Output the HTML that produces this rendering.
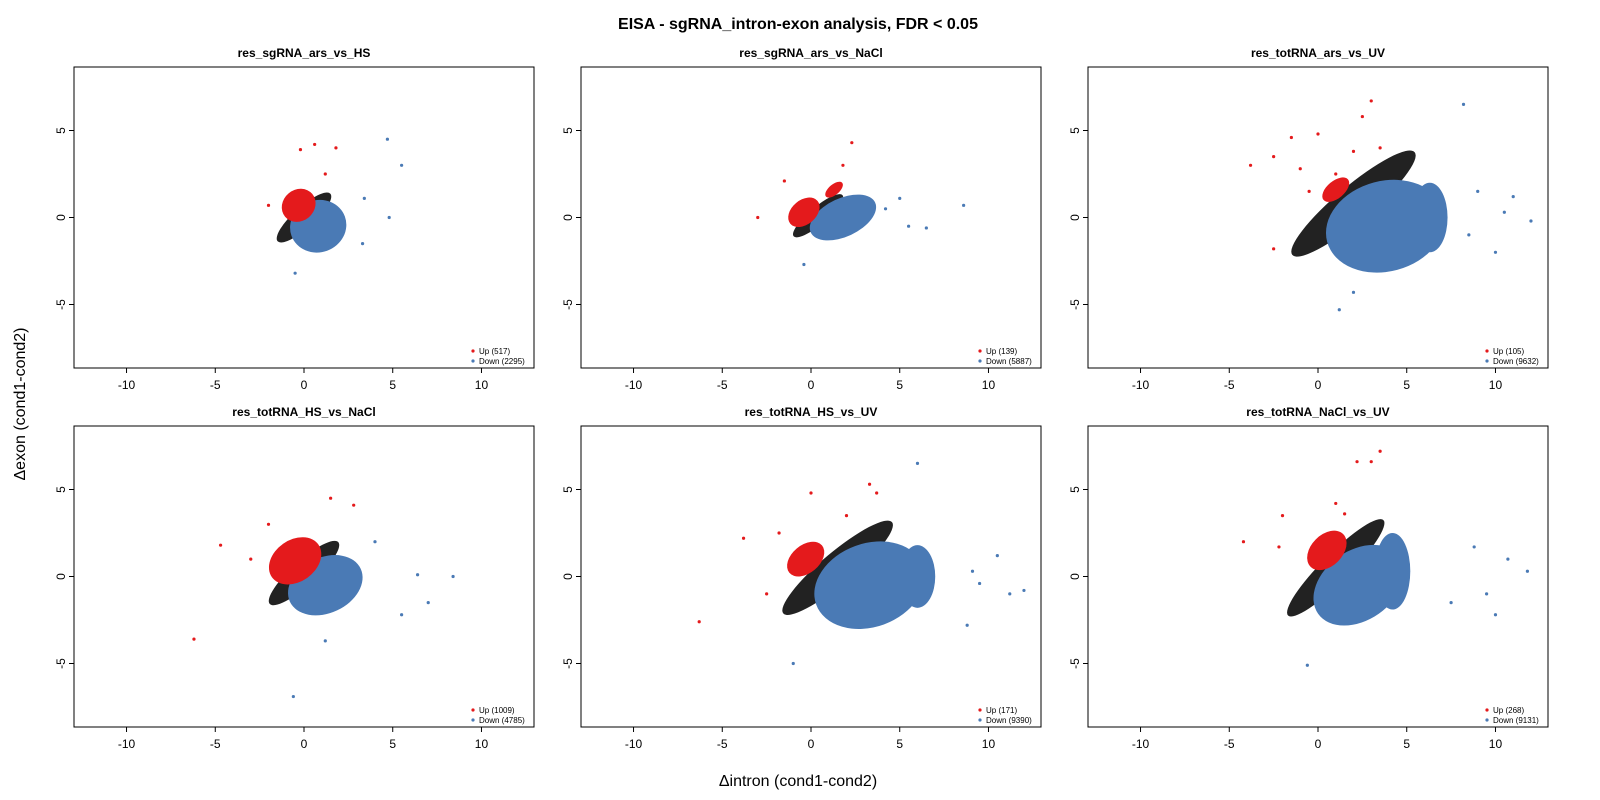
<!DOCTYPE html>
<html><head><meta charset="utf-8">
<style>
html,body{margin:0;padding:0;background:#fff;}
svg{display:block;font-family:"Liberation Sans",Arial,sans-serif;}
</style></head>
<body>
<svg id="chart" width="1600" height="800" viewBox="0 0 1600 800">
<text x="798" y="29" text-anchor="middle" font-size="16" font-weight="bold">EISA - sgRNA_intron-exon analysis, FDR &lt; 0.05</text>
<text x="798" y="786" text-anchor="middle" font-size="16">Δintron (cond1-cond2)</text>
<text transform="translate(25,404) rotate(-90)" text-anchor="middle" font-size="16">Δexon (cond1-cond2)</text>
</svg>
<script>
// panel metadata
const titles = ["res_sgRNA_ars_vs_HS","res_sgRNA_ars_vs_NaCl","res_totRNA_ars_vs_UV","res_totRNA_HS_vs_NaCl","res_totRNA_HS_vs_UV","res_totRNA_NaCl_vs_UV"];
const upCounts = [517,139,105,1009,171,268];
const downCounts = [2295,5887,9632,4785,9390,9131];
const xTicks = [-10,-5,0,5,10];
const yTicks = [-5,0,5];
// cloud shapes per panel: [cx, cy, rx, ry, angleDeg] in data units
const nsClouds = [
 [[0,0,2.0,0.6,42]],[[0.4,0.1,1.8,0.5,40]],[[2,0.8,4.5,1.0,40]],
 [[0,0.2,2.6,0.7,42]],[[1.5,0.5,4,0.9,40]],[[1,0.5,3.8,0.8,45]]];
const downClouds = [
 [[0.8,-0.5,1.6,1.5,20]],[[1.8,0,2.0,1.1,25]],[[3.8,-0.5,3.4,2.6,15],[6.3,0,1.0,2.0,0]],
 [[1.2,-0.5,2.2,1.6,25]],[[3.3,-0.5,3.2,2.4,20],[6,0,1.0,1.8,0]],[[2.3,-0.5,2.8,2.0,35],[4.2,0.3,1.0,2.2,0]]];
const upClouds = [
 [[-0.3,0.7,1.0,0.9,40]],[[-0.4,0.3,1.0,0.7,40],[1.3,1.6,0.6,0.3,40]],[[1.0,1.6,0.9,0.5,40]],
 [[-0.5,0.9,1.6,1.2,35]],[[-0.3,1.0,1.2,0.8,40]],[[0.5,1.5,1.3,0.9,45]]];
const upPoints = [
 [[0.6,4.2],[-0.2,3.9],[1.8,4],[-2,0.7],[1.2,2.5]],
 [[2.3,4.3],[-3,0],[1.8,3],[-1.5,2.1]],
 [[-3.8,3],[-2.5,3.5],[-1.5,4.6],[0,4.8],[2.5,5.8],[3,6.7],[2,3.8],[-2.5,-1.8],[-0.5,1.5],[3.5,4],[1,2.5],[-1,2.8]],
 [[-4.7,1.8],[-6.2,-3.6],[-2,3],[1.5,4.5],[2.8,4.1],[-3,1]],
 [[-3.8,2.2],[-6.3,-2.6],[0,4.8],[3.3,5.3],[3.7,4.8],[-1.8,2.5],[2,3.5],[-2.5,-1]],
 [[-4.2,2],[2.2,6.6],[3,6.6],[3.5,7.2],[-2,3.5],[1,4.2],[-2.2,1.7],[1.5,3.6]]];
const downPoints = [
 [[5.5,3],[4.8,0],[3.3,-1.5],[-0.5,-3.2],[3.4,1.1],[4.7,4.5]],
 [[8.6,0.7],[6.5,-0.6],[5.5,-0.5],[-0.4,-2.7],[5,1.1],[4.2,0.5]],
 [[12,-0.2],[11,1.2],[10,-2],[9,1.5],[8.2,6.5],[1.2,-5.3],[2,-4.3],[10.5,0.3],[8.5,-1]],
 [[8.4,0],[7,-1.5],[6.4,0.1],[5.5,-2.2],[-0.6,-6.9],[1.2,-3.7],[4,2]],
 [[12,-0.8],[11.2,-1],[10.5,1.2],[9.5,-0.4],[8.8,-2.8],[6,6.5],[9.1,0.3],[-1,-5]],
 [[11.8,0.3],[10.7,1],[10,-2.2],[9.5,-1],[8.8,1.7],[-0.6,-5.1],[7.5,-1.5]]];
// layout
const colX=[74,581,1088], rowY=[67,426], PW=460, PH=301, XL=12.96, YL=8.65;
const NS="http://www.w3.org/2000/svg";
const svg=document.getElementById('chart');
function mk(t,a,p){const e=document.createElementNS(NS,t);for(const k in a)e.setAttribute(k,a[k]);(p||svg).appendChild(e);return e;}
titles.forEach((title,i)=>{
 const x0=colX[i%3], y0=rowY[Math.floor(i/3)];
 const sx=v=>x0+PW/2+v*PW/(2*XL), sy=v=>y0+PH/2-v*PH/(2*YL);
 const g=mk('g',{});
 
 
 const cp=mk('clipPath',{id:'cp'+i},g); mk('rect',{x:x0,y:y0,width:PW,height:PH},cp);
 const pg=mk('g',{'clip-path':'url(#cp'+i+')'},g);
 const ell=(c,col,nm)=>{const e=mk('ellipse',{cx:sx(c[0]),cy:sy(c[1]),rx:c[2]*PW/(2*XL),ry:c[3]*PH/(2*YL),fill:col,transform:`rotate(${-c[4]} ${sx(c[0])} ${sy(c[1])})`},pg);
  
  };
 nsClouds[i].forEach(c=>ell(c,'#222','nonsig-cloud'));
 downClouds[i].forEach(c=>ell(c,'#4a7ab5','down-cloud'));
 upClouds[i].forEach(c=>ell(c,'#e41a1c','up-cloud'));
 const pt=(p,col,nm)=>{const e=mk('circle',{cx:sx(p[0]),cy:sy(p[1]),r:1.6,fill:col},pg);
  
  };
 downPoints[i].forEach(p=>pt(p,'#4a7ab5','down-point'));
 upPoints[i].forEach(p=>pt(p,'#e41a1c','up-point'));
 mk('rect',{x:x0,y:y0,width:PW,height:PH,fill:'none',stroke:'#000','stroke-width':1},g);
 const t=mk('text',{x:x0+PW/2,y:y0-10,'text-anchor':'middle','font-size':12,'font-weight':'bold'},g); t.textContent=title;
 
 
 xTicks.forEach(v=>{mk('line',{x1:sx(v),x2:sx(v),y1:y0+PH,y2:y0+PH+5,stroke:'#000'},g);
  const l=mk('text',{x:sx(v),y:y0+PH+21,'text-anchor':'middle','font-size':12},g);l.textContent=v;
  
  });
 yTicks.forEach(v=>{mk('line',{x1:x0-5,x2:x0,y1:sy(v),y2:sy(v),stroke:'#000'},g);
  const l=mk('text',{x:0,y:0,'text-anchor':'middle','font-size':12,transform:`translate(${x0-9},${sy(v)}) rotate(-90)`},g);l.textContent=v;
  
  });
 const leg=mk('g',{},g);
 
 
 [['Up ('+upCounts[i]+')','#e41a1c'],['Down ('+downCounts[i]+')','#4a7ab5']].forEach((e,k)=>{
  const ly=y0+PH-17+k*10;
  mk('circle',{cx:x0+PW-61,cy:ly,r:1.6,fill:e[1]},leg);
  const lt=mk('text',{x:x0+PW-55,y:ly+3,'font-size':8},leg);lt.textContent=e[0];
  
  });
});
</script>
</body></html>
